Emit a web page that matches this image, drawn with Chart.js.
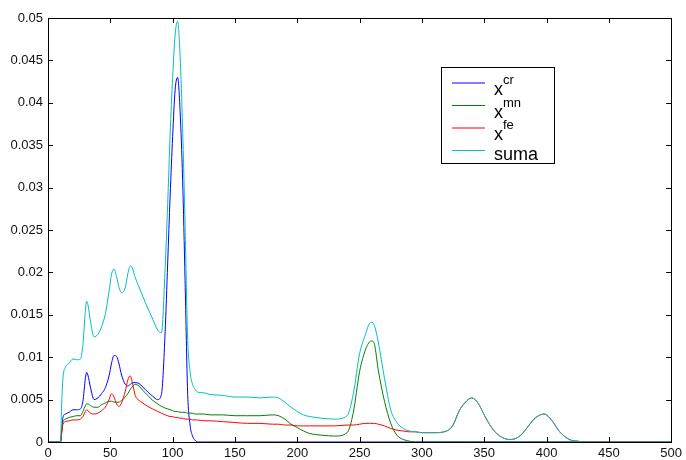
<!DOCTYPE html>
<html>
<head>
<meta charset="utf-8">
<script src="https://cdn.jsdelivr.net/npm/chart.js@4"></script>
<style>
  html, body { margin: 0; padding: 0; background: #fff; }
  #wrap { width: 686px; height: 460px; position: relative; }
</style>
</head>
<body>
<div id="wrap"><canvas id="profileChart"></canvas></div>
<script>
// x positions (shared by all series)
const xs = [
  0, 5, 10, 11, 12, 14, 17, 20, 23, 26,
  28, 30, 31, 32, 34, 37, 40, 43, 46, 49,
  51, 53, 55, 57, 59, 62, 64, 66, 68, 70,
  73, 76, 80, 84, 88, 91, 94, 96, 98, 100,
  102, 104, 106, 108, 110, 112, 114, 116, 118, 120,
  125, 130, 140, 150, 160, 170, 180, 185, 190, 195,
  200, 205, 210, 220, 230, 240, 245, 250, 255, 258,
  260, 262, 265, 270, 275, 280, 285, 290, 295, 300,
  310, 320, 325, 330, 335, 340, 345, 350, 355, 360,
  365, 370, 375, 380, 385, 390, 395, 398, 400, 405,
  410, 415, 420, 425, 430, 450, 500
];

const xCr = [
  0, 0, 0, 0.0015, 0.0029, 0.0033, 0.0035, 0.0038, 0.0038, 0.0039,
  0.0048, 0.0075, 0.0082, 0.0079, 0.0065, 0.005, 0.0052, 0.0057, 0.0064, 0.0078,
  0.0093, 0.0102, 0.0101, 0.0092, 0.0079, 0.0068, 0.0066, 0.0068, 0.007, 0.007,
  0.0069, 0.0065, 0.0059, 0.0054, 0.005, 0.0056, 0.013, 0.021, 0.029, 0.036,
  0.0415, 0.043, 0.039, 0.031, 0.019, 0.006, 0.002, 0.0007, 0.0002, 0,
  0, 0, 0, 0, 0, 0, 0, 0, 0, 0,
  0, 0, 0, 0, 0, 0, 0, 0, 0, 0,
  0, 0, 0, 0, 0, 0, 0, 0, 0, 0,
  0, 0, 0, 0, 0, 0, 0, 0, 0, 0,
  0, 0, 0, 0, 0, 0, 0, 0, 0, 0,
  0, 0, 0, 0, 0, 0, 0
];

const xMn = [
  0, 0, 0, 0.0012, 0.0024, 0.0027, 0.0029, 0.003, 0.0031, 0.0031,
  0.0036, 0.0043, 0.0045, 0.0045, 0.0043, 0.0041, 0.0041, 0.0044, 0.0046, 0.0048,
  0.0048, 0.0047, 0.0047, 0.0047, 0.0049, 0.0053, 0.0057, 0.0062, 0.0066, 0.0068,
  0.0066, 0.0061, 0.0055, 0.0049, 0.0045, 0.0042, 0.004, 0.0039, 0.0038, 0.0037,
  0.0036, 0.0036, 0.0035, 0.0035, 0.0035, 0.0034, 0.0034, 0.0034, 0.0033, 0.0033,
  0.0033, 0.0032, 0.0032, 0.0031, 0.0031, 0.0031, 0.0032, 0.0031, 0.0027, 0.0021,
  0.0017, 0.0013, 0.001, 0.0008, 0.0007, 0.0011, 0.0035, 0.0083, 0.011, 0.0118,
  0.0119, 0.0115, 0.0085, 0.0048, 0.0022, 0.0008, 0.0003, 0.0001, 0, 0,
  0, 0, 0, 0, 0, 0, 0, 0, 0, 0,
  0, 0, 0, 0, 0, 0, 0, 0, 0, 0,
  0, 0, 0, 0, 0, 0, 0
];

const xFe = [
  0, 0, 0, 0.001, 0.0021, 0.0024, 0.0025, 0.0026, 0.0026, 0.0027,
  0.003, 0.0036, 0.0038, 0.0037, 0.0034, 0.0033, 0.0034, 0.0037, 0.0041, 0.005,
  0.0057, 0.0053, 0.0045, 0.0042, 0.0046, 0.006, 0.0073, 0.0078, 0.0068, 0.0055,
  0.0049, 0.0046, 0.0042, 0.0039, 0.0036, 0.0034, 0.0032, 0.0031, 0.003, 0.003,
  0.0029, 0.0029, 0.0028, 0.0028, 0.0027, 0.0027, 0.0027, 0.0026, 0.0026, 0.0026,
  0.0025, 0.0025, 0.0024, 0.0023, 0.0022, 0.0022, 0.0021, 0.0021, 0.002, 0.002,
  0.0019, 0.0019, 0.0019, 0.0019, 0.0019, 0.002, 0.002, 0.0021, 0.0022, 0.0022,
  0.0022, 0.0022, 0.0021, 0.0019, 0.0016, 0.0014, 0.0013, 0.0012, 0.0012, 0.0011,
  0.0011, 0.0013, 0.002, 0.0037, 0.0047, 0.0052, 0.0046, 0.0032, 0.0019, 0.001,
  0.0005, 0.0003, 0.0004, 0.0009, 0.0018, 0.0027, 0.0032, 0.0033, 0.0032, 0.0024,
  0.0013, 0.0006, 0.0002, 0.0001, 0, 0, 0
];

const suma = [
  0, 0, 0, 0.0045, 0.0075, 0.0088, 0.0093, 0.0098, 0.0097, 0.0098,
  0.0115, 0.0155, 0.0166, 0.0162, 0.0143, 0.0124, 0.0127, 0.0136, 0.0151, 0.0178,
  0.0198, 0.0204, 0.0195, 0.0182, 0.0176, 0.0182, 0.0198, 0.0208, 0.0204, 0.0194,
  0.0183, 0.0172, 0.0158, 0.0145, 0.0132, 0.0129, 0.0205, 0.028, 0.0362, 0.043,
  0.048, 0.0496, 0.0455, 0.037, 0.0255, 0.0125, 0.0083, 0.0068, 0.0062, 0.0059,
  0.0058, 0.0056, 0.0055, 0.0053, 0.0053, 0.0052, 0.0053, 0.0052, 0.0047, 0.0041,
  0.0036, 0.0032, 0.003, 0.0028, 0.0027, 0.0031, 0.0057, 0.0104, 0.0128, 0.014,
  0.0141, 0.0137, 0.0118, 0.0075, 0.0038, 0.0023, 0.0016, 0.0013, 0.0012, 0.0011,
  0.0011, 0.0013, 0.002, 0.0037, 0.0047, 0.0052, 0.0046, 0.0032, 0.0019, 0.001,
  0.0005, 0.0003, 0.0004, 0.0009, 0.0018, 0.0027, 0.0032, 0.0033, 0.0032, 0.0024,
  0.0013, 0.0006, 0.0002, 0.0001, 0, 0, 0
];

const seriesNames = ['x^cr', 'x^mn', 'x^fe', 'suma'];
const seriesColors = ['#0000ff', '#008000', '#ff0000', '#00bfbf'];
const xTicks = [0, 50, 100, 150, 200, 250, 300, 350, 400, 450, 500];
const yTicks = [0, 0.005, 0.01, 0.015, 0.02, 0.025, 0.03, 0.035, 0.04, 0.045, 0.05];

const FONT = "'Liberation Sans', Arial, sans-serif";

function toPoints(ys) {
    return xs.map((x, i) => ({ x: x, y: ys[i] }));
}

// box + inward ticks on all four sides, matlab style
const framePlugin = {
    id: 'frame',
    afterDatasetsDraw(chart) {
        const { ctx, chartArea: a, scales } = chart;
        const len = 5;
        ctx.save();
        ctx.strokeStyle = '#000';
        ctx.lineWidth = 1;
        ctx.beginPath();
        xTicks.forEach(v => {
            const px = Math.round(scales.x.getPixelForValue(v)) + 0.5;
            ctx.moveTo(px, a.bottom);
            ctx.lineTo(px, a.bottom - len);
            ctx.moveTo(px, a.top);
            ctx.lineTo(px, a.top + len);
        });
        yTicks.forEach(v => {
            const py = Math.round(scales.y.getPixelForValue(v)) + 0.5;
            ctx.moveTo(a.left, py);
            ctx.lineTo(a.left + len, py);
            ctx.moveTo(a.right, py);
            ctx.lineTo(a.right - len, py);
        });
        ctx.stroke();
        ctx.strokeRect(Math.round(a.left) + 0.5, Math.round(a.top) + 0.5,
            Math.round(a.right - a.left), Math.round(a.bottom - a.top));
        ctx.restore();
    }
};

// legend with superscripts
const legendPlugin = {
    id: 'supLegend',
    afterDraw(chart) {
        const ctx = chart.ctx;
        const bx = 441.5, by = 67.5, bw = 113, bh = 96;
        ctx.save();
        ctx.fillStyle = '#fff';
        ctx.fillRect(bx, by, bw, bh);
        ctx.strokeStyle = '#000';
        ctx.lineWidth = 1;
        ctx.strokeRect(bx, by, bw, bh);
        seriesNames.forEach((name, i) => {
            const ly = 83 + i * 22.5;
            ctx.strokeStyle = seriesColors[i];
            ctx.beginPath();
            ctx.moveTo(452, ly);
            ctx.lineTo(485, ly);
            ctx.stroke();
            ctx.fillStyle = '#000';
            ctx.textAlign = 'left';
            ctx.textBaseline = 'alphabetic';
            const parts = name.split('^');
            if (parts.length === 2) {
                ctx.font = '18px ' + FONT;
                ctx.fillText(parts[0], 494, ly + 12);
                const w = ctx.measureText(parts[0]).width;
                ctx.font = '13px ' + FONT;
                ctx.fillText(parts[1], 494 + w, ly + 1);
            } else {
                ctx.font = '18px ' + FONT;
                ctx.fillText(name, 494, ly + 9);
            }
        });
        ctx.restore();
    }
};

function createProfileChart() {
    const ctx = document.getElementById('profileChart');
    if (!ctx) return;

    const datasets = [xCr, xMn, xFe, suma].map((ys, i) => ({
        label: seriesNames[i],
        data: toPoints(ys),
        borderColor: seriesColors[i],
        borderWidth: 1,
        pointRadius: 0,
        fill: false,
        cubicInterpolationMode: 'monotone',
        order: 3 - i
    }));

    new Chart(ctx, {
        type: 'line',
        data: { datasets: datasets },
        options: {
            responsive: true,
            maintainAspectRatio: false,
            animation: false,
            layout: { padding: { top: 18, right: 13, left: 0, bottom: 0 } },
            plugins: {
                legend: { display: false },
                tooltip: { enabled: false }
            },
            scales: {
                x: {
                    type: 'linear',
                    min: 0,
                    max: 500,
                    afterFit: s => { s.height = 18; },
                    afterBuildTicks: s => { s.ticks = xTicks.map(v => ({ value: v })); },
                    grid: { display: false, drawTicks: false },
                    border: { display: false },
                    ticks: {
                        padding: 4,
                        color: '#111',
                        font: { size: 13, family: FONT },
                        maxRotation: 0
                    }
                },
                y: {
                    type: 'linear',
                    min: 0,
                    max: 0.05,
                    afterFit: s => { s.width = 48; },
                    afterBuildTicks: s => { s.ticks = yTicks.map(v => ({ value: v })); },
                    grid: { display: false, drawTicks: false },
                    border: { display: false },
                    ticks: {
                        padding: 5,
                        color: '#111',
                        font: { size: 13, family: FONT },
                        callback: v => String(+v.toFixed(3))
                    }
                }
            }
        },
        plugins: [framePlugin, legendPlugin]
    });
}

document.addEventListener('DOMContentLoaded', () => {
    createProfileChart();
});
</script>
</body>
</html>
